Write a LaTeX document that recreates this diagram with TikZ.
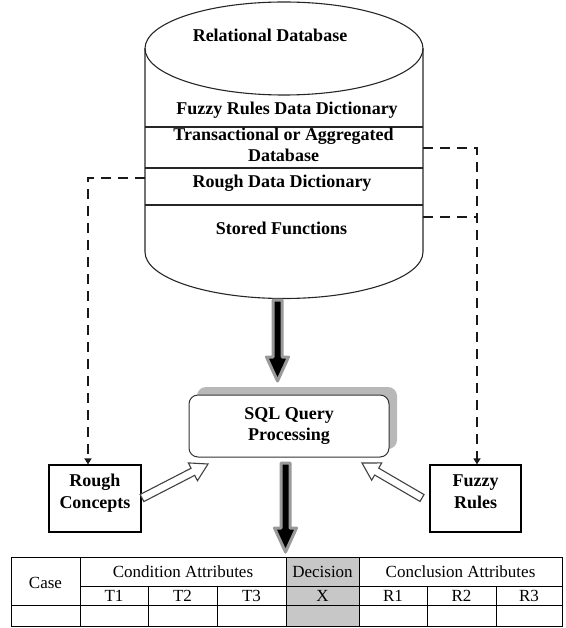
\documentclass[tikz,border=0pt]{standalone}
\usepackage{fontspec}
\setmainfont{Liberation Serif}
\usetikzlibrary{arrows.meta,calc,shadows}
\newcommand\fatarrow[2]{%
  \path[fatarr] let \p1=#1, \p2=#2 in
    ({\x1-4.5pt},{\y1}) -- ({\x1+4.5pt},{\y1}) -- ({\x1+4.5pt},{\y2+24pt}) --
    ({\x1+11pt},{\y2+24pt}) -- ({\x1},{\y2}) -- ({\x1-11pt},{\y2+24pt}) --
    ({\x1-4.5pt},{\y2+24pt}) -- cycle;}
\newcommand\hollowarrow[2]{%
  \coordinate (hh) at ($#2!17pt!#1$);
  \draw[hollowarr] ($#1!4pt!90:#2$) -- ($(hh)!4pt!90:#2$) -- ($(hh)!10pt!90:#2$) --
    #2 -- ($(hh)!10pt!-90:#2$) -- ($(hh)!4pt!-90:#2$) -- ($#1!4pt!-90:#2$) -- cycle;}
\begin{document}
\begin{tikzpicture}[x=1pt,y=-1pt,
  lbl/.style={font=\fontsize{18}{21.6}\selectfont\bfseries, inner sep=0pt},
  cell/.style={font=\fontsize{17}{20}\selectfont, inner sep=0pt, anchor=base},
  cyl/.style={draw=black!85, line width=1.1pt},
  dashline/.style={line width=2.2pt, dash pattern=on 10pt off 7pt, black!90},
  tip/.style={-{Triangle[width=7pt,length=6pt]}},
  fatarr/.style={fill=black, draw=black!40, line width=3pt, line join=round},
  hollowarr/.style={fill=white, draw=black!75, line width=1.1pt, line join=miter},
  tbox/.style={draw=black, line width=1.2pt, minimum height=67pt, inner sep=0pt},
  sqlbox/.style={draw=black!80, line width=1pt, fill=white, rounded corners=9pt,
     minimum width=200pt, minimum height=62pt, align=center, inner sep=0pt,
     font=\fontsize{18}{21.6}\selectfont\bfseries,
     drop shadow={shadow xshift=8pt, shadow yshift=8pt, fill=black!28, opacity=1}},
  tline/.style={draw=black, line width=1pt}
]
\useasboundingbox (0,0) rectangle (565,628);

% ---- cylinder (relational database)
\draw[cyl] (284,48.5) ellipse [x radius=139, y radius=46.5];
\draw[cyl] (145,48.5) -- (145,252) .. controls (145,277.7) and (207.2,298.5) .. (284,298.5)
   .. controls (360.8,298.5) and (423,277.7) .. (423,252) -- (423,48.5);
\draw[cyl] (145,127) -- (423,127);
\draw[cyl] (145,168) -- (423,168);
\draw[cyl] (145,205) -- (423,205);
\coordinate (cl) at (145,178);
\coordinate (cr1) at (423,148);
\coordinate (cr2) at (423,217);
\coordinate (a1s) at (277.5,300);
\coordinate (a1e) at (277.5,381);

\node[lbl, anchor=base] (reldb) at (270,42) {Relational Database};
\node[lbl, anchor=base] (fzdd) at (287,115) {Fuzzy Rules Data Dictionary};
\node[lbl, align=center, anchor=base] (trans) at (283.5,162) {Transactional or Aggregated\\Database};
\node[lbl, anchor=base] (rgdd) at (282,188) {Rough Data Dictionary};
\node[lbl, anchor=base] (stf) at (281.5,234) {Stored Functions};

% ---- SQL box
\node[sqlbox] (sql) at (289,426) {SQL Query\\Processing};
\coordinate (a2s) at (285.5,463);
\coordinate (a2e) at (285.5,552);

% ---- side boxes
\node[tbox, minimum width=92pt] (rough) at (95,498.5) {};
\node[lbl, align=center, anchor=base] (roughtxt) at (95,508) {Rough\\Concepts};
\node[tbox, minimum width=91pt] (fuzzy) at (475.5,498.5) {};
\node[lbl, align=center, anchor=base] (fuzzytxt) at (475.5,508) {Fuzzy\\Rules};

% ---- dashed connectors
\draw[dashline, tip] (cl) -| ([xshift=-7pt]rough.north);
\draw[dashline, tip] (cr1) -| ([xshift=1.5pt]fuzzy.north);
\draw[dashline] (cr2) -- ([xshift=1.5pt]cr2 -| fuzzy.north);

% ---- thick arrows
\fatarrow{(a1s)}{(a1e)}
\fatarrow{(a2s)}{(a2e)}

% ---- hollow arrows
\coordinate (h1t) at (142,498);
\coordinate (h1p) at (208,464);
\coordinate (h2t) at (422,498);
\coordinate (h2p) at (362,463);
\hollowarrow{(h1t)}{(h1p)}
\hollowarrow{(h2t)}{(h2p)}

% ---- table
\fill[black!22] (286,557) rectangle (359,626);
\draw[tline] (11,557) rectangle (562,626);
\draw[tline] (80,586) -- (562,586);
\draw[tline] (11,605) -- (562,605);
\foreach \x in {80,286,359} \draw[tline] (\x,557) -- (\x,626);
\foreach \x in {148,217,427,496} \draw[tline] (\x,586) -- (\x,626);

\node[cell] (case) at (45.5,588) {Case};
\node[cell] (cond) at (183,577) {Condition Attributes};
\node[cell] (dec) at (322.5,577) {Decision};
\node[cell] (conc) at (460.5,577) {Conclusion Attributes};
\node[cell] (t1) at (114,601) {T1};
\node[cell] (t2) at (182.5,601) {T2};
\node[cell] (t3) at (251.5,601) {T3};
\node[cell] (x) at (322.5,601) {X};
\node[cell] (r1) at (393,601) {R1};
\node[cell] (r2) at (461.5,601) {R2};
\node[cell] (r3) at (529,601) {R3};
\end{tikzpicture}
\end{document}
